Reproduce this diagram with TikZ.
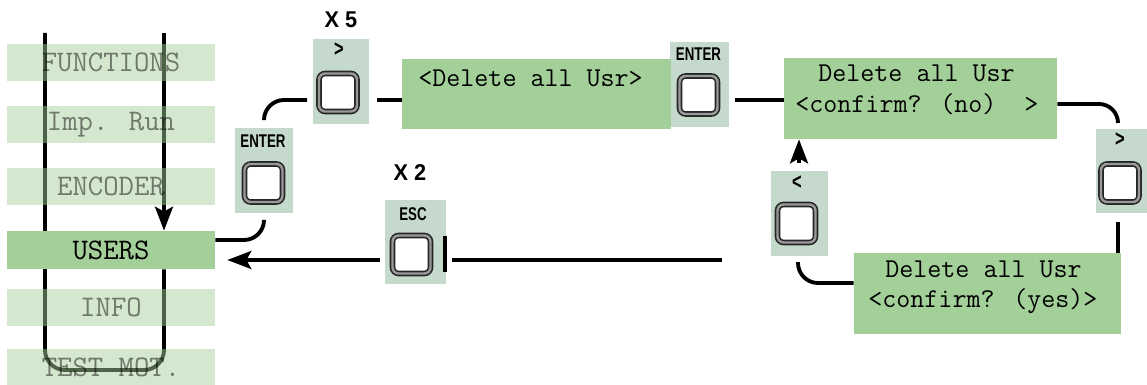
\documentclass[tikz,border=0pt]{standalone}
\usepackage{fontspec}
\usetikzlibrary{arrows.meta,backgrounds}
\newfontfamily\keyfont[FakeStretch=0.72]{Liberation Sans}
\newfontfamily\countfont[FakeStretch=0.95]{Liberation Sans}
\definecolor{lcdcol}{RGB}{163,207,152}
\definecolor{keycol}{RGB}{197,217,204}
\tikzset{
  menu/.style={fill=lcdcol,fill opacity=0.48,inner sep=0pt,minimum width=4.16cm,minimum height=0.74cm,font=\ttfamily\fontsize{17}{17}\selectfont},
  menusel/.style={fill=lcdcol,inner sep=0pt,minimum width=4.16cm,minimum height=0.76cm,font=\ttfamily\fontsize{17}{17}\selectfont},
  lcd/.style={fill=lcdcol,inner sep=0pt},
  lcdtext/.style={anchor=base west,inner sep=0pt,font=\ttfamily\fontsize{15.5}{15.5}\selectfont},
  panel/.style={fill=keycol,inner sep=0pt},
  keylab/.style={inner sep=0pt,font=\keyfont\bfseries\fontsize{10.5}{10.5}\selectfont},
  arrowlab/.style={inner sep=0pt,font=\keyfont\bfseries\fontsize{13}{13}\selectfont},
  countlab/.style={inner sep=0pt,font=\countfont\bfseries\fontsize{13}{13}\selectfont},
  keybtn/.style={draw=black!85,line width=0.9pt,double=black!40,double distance=1.4pt,fill=white,rounded corners=3.5pt,inner sep=0pt,minimum size=0.76cm},
  flow/.style={line width=2.2pt},
  arrowed/.style={-{Stealth[length=0.48cm,width=0.36cm,inset=0.1cm]}},
}

\begin{document}
\begin{tikzpicture}[x=0.02cm,y=-0.02cm]
  \useasboundingbox (0,0) rectangle (1147,385);

  % menu column
  \node[menu] (mfunc) at (111,62.5) {FUNCTIONS};
  \node[menu] (mimp) at (111,124.5) {Imp. Run};
  \node[menu] (menc) at (111,186.5) {ENCODER};
  \node[menusel] (users) at (111,250) {USERS};
  \node[menu] (minfo) at (111,307.5) {INFO};
  \node[menu] (mtest) at (111,367) {TEST MOT.};

  \coordinate (ltop) at (45,33);
  \coordinate (rtop) at (164,33);
  \coordinate (lbot) at (45,370);
  \coordinate (rbot) at (164,370);
  \begin{scope}[on background layer]
    \draw[flow,rounded corners=0.4cm] (ltop) -- (lbot) -- (rbot) -- (rbot |- users.south);
    \draw[flow,arrowed] (rtop) -- (rtop |- users.north);
  \end{scope}

  % keys
  \node[panel,minimum width=1.16cm,minimum height=1.7cm] (enterA) at (264,170.5) {};
  \node[keylab] (enterAlab) at (263,141) {ENTER};
  \node[keybtn] (enterAbtn) at (263.5,183) {};

  \node[panel,minimum width=1.12cm,minimum height=1.7cm] (nextA) at (341,81.5) {};
  \node[arrowlab] (nextAlab) at (339,50) {>};
  \node[keybtn] (nextAbtn) at (338,92.5) {};
  \node[countlab] (fivetimes) at (341,20) {X 5};

  \node[panel,minimum width=1.18cm,minimum height=1.7cm] (enterB) at (699.5,84.5) {};
  \node[keylab] (enterBlab) at (698.5,54) {ENTER};
  \node[keybtn] (enterBbtn) at (698.5,95) {};

  \node[panel,minimum width=1.02cm,minimum height=1.68cm] (nextB) at (1121.5,171) {};
  \node[arrowlab] (nextBlab) at (1120,140) {>};
  \node[keybtn] (nextBbtn) at (1120,183) {};

  \node[panel,minimum width=1.14cm,minimum height=1.7cm] (prevA) at (799.5,213.5) {};
  \node[arrowlab] (prevAlab) at (797,183) {<};
  \node[keybtn] (prevAbtn) at (796.5,223.5) {};

  \node[panel,minimum width=1.22cm,minimum height=1.68cm] (esc) at (415.5,242) {};
  \node[keylab] (esclab) at (413,214) {ESC};
  \node[keybtn] (escbtn) at (411.5,254.5) {};
  \node[countlab] (twotimes) at (410,173) {X 2};
  \draw[line width=2.4pt] (445,236) -- (445,272);

  % displays
  \node[lcd,minimum width=5.38cm,minimum height=1.4cm] (dispA) at (536.5,94) {};
  \node[lcdtext] (dispAl1) at (418,87) {<Delete all Usr>};

  \node[lcd,minimum width=5.46cm,minimum height=1.62cm] (dispB) at (920.5,98.5) {};
  \node[lcdtext] (dispBl1) at (818,82) {Delete all Usr};
  \node[lcdtext] (dispBl2) at (795,113) {<confirm? (no)\ \ >};

  \node[lcd,minimum width=5.34cm,minimum height=1.62cm] (dispC) at (987.5,293.5) {};
  \node[lcdtext] (dispCl1) at (885,277) {Delete all Usr};
  \node[lcdtext] (dispCl2) at (868,307) {<confirm? (yes)>};

  % connectors
  \coordinate (k1) at (307,100);
  \coordinate (k2) at (377,100);
  \coordinate (k3) at (735,100);
  \coordinate (k4) at (1118,123);
  \coordinate (k5) at (1118,222);
  \coordinate (k6) at (798,262);
  \coordinate (k7) at (799,163);
  \coordinate (k8) at (722,260);
  \coordinate (k9) at (452,260);
  \coordinate (k10) at (380,260);
  \draw[flow,rounded corners=0.4cm] ([yshift=0.2cm]users.east) -| ([yshift=-0.14cm]enterA.south);
  \draw[flow,rounded corners=0.4cm] ([yshift=0.16cm]enterA.north) |- (k1);
  \draw[flow] (k2) -- (k2 -| dispA.west);
  \draw[flow] (k3) -- (k3 -| dispB.west);
  \draw[flow,rounded corners=0.38cm] ([yshift=-0.11cm]dispB.east) -| (k4);
  \draw[flow] (k5) -- (k5 |- dispC.north);
  \draw[flow,rounded corners=0.4cm] ([yshift=0.21cm]dispC.west) -| (k6);
  \draw[flow,arrowed] (k7) -- (k7 |- dispB.south);
  \draw[flow] (k8) -- (k9);
  \draw[flow,arrowed,shorten >=0.24cm] (k10) -- (k10 -| users.east);
\end{tikzpicture}
\end{document}
